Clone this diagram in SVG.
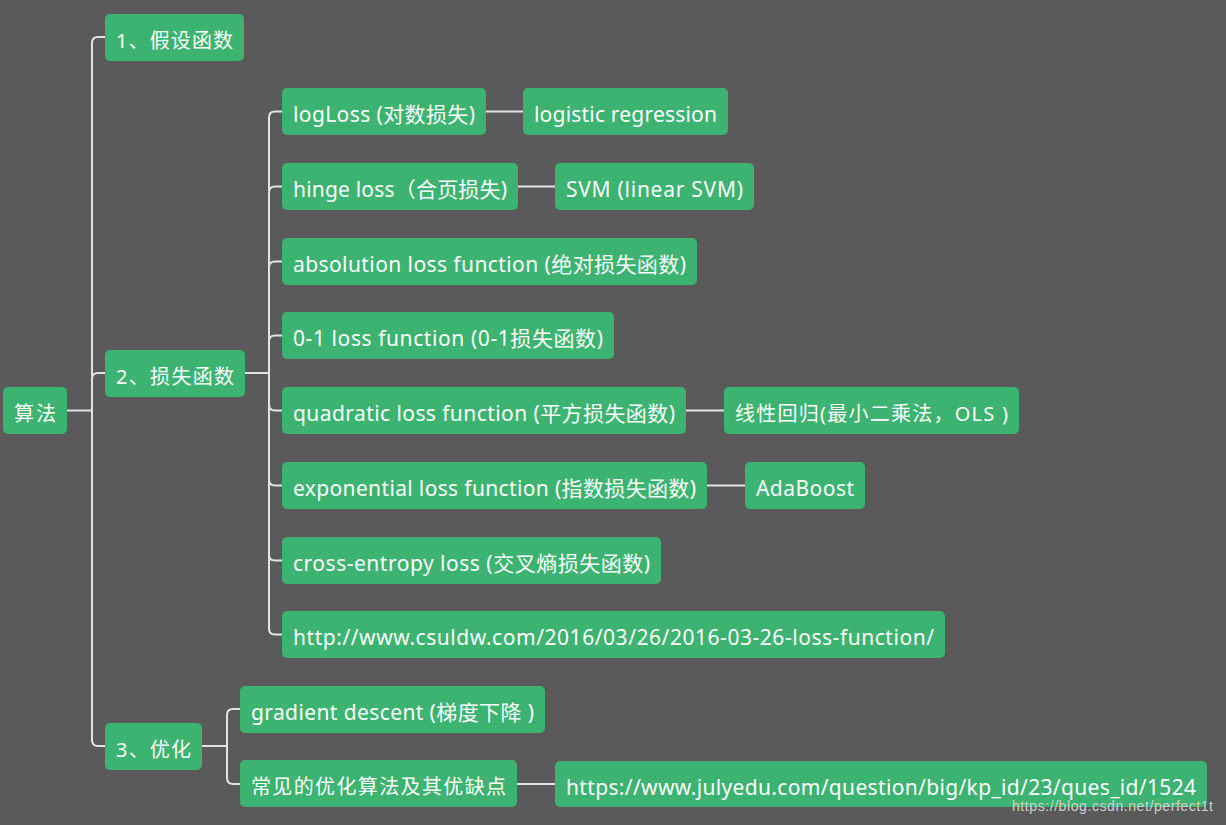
<svg xmlns="http://www.w3.org/2000/svg" width="1226" height="825" viewBox="0 0 1226 825">
<style>
.n rect{fill:#3cb371;}
.n text{fill:#ffffff;font-family:"Noto Sans","Noto Sans CJK SC",sans-serif;font-size:21px;}
.n text.z{font-size:20px;}
.c path{fill:none;stroke:#e3e3e3;stroke-width:2;}
.wm{fill:#d0d0d0;font-family:"Liberation Sans",Arial,sans-serif;font-size:14px;}
</style>
<rect width="1226" height="825" fill="#5a5a5a"/>
<g class="c">
<path d="M67,410.5 H92"/>
<path d="M92,410 V43 Q92,37 98,37 H105"/>
<path d="M92,410 V379 Q92,373 98,373 H105"/>
<path d="M92,410 V740 Q92,746 98,746 H105"/>
<path d="M245,373 H269"/>
<path d="M269,373 V117.5 Q269,111.5 275,111.5 H282"/>
<path d="M269,373 V192.5 Q269,186.5 275,186.5 H282"/>
<path d="M269,373 V267.5 Q269,261.5 275,261.5 H282"/>
<path d="M269,373 V341.5 Q269,335.5 275,335.5 H282"/>
<path d="M269,373 V404.5 Q269,410.5 275,410.5 H282"/>
<path d="M269,373 V479.5 Q269,485.5 275,485.5 H282"/>
<path d="M269,373 V554.5 Q269,560.5 275,560.5 H282"/>
<path d="M269,373 V628.5 Q269,634.5 275,634.5 H282"/>
<path d="M202,746 H227"/>
<path d="M227,746 V715 Q227,709 233,709 H240"/>
<path d="M227,746 V778 Q227,784 233,784 H240"/>
<path d="M486,111.5 H523"/>
<path d="M518,186.5 H555"/>
<path d="M686,410.5 H724"/>
<path d="M707,485.5 H745"/>
<path d="M517,784 H555"/>
</g>
<g id="root" class="n"><rect x="3" y="387" width="64" height="47" rx="5"/><text class="z" x="14" y="420.5" textLength="42">算法</text></g>
<g id="n1" class="n"><rect x="105" y="14" width="139" height="47" rx="5"/><text class="z" x="116" y="47.5" textLength="117">1、假设函数</text></g>
<g id="n2" class="n"><rect x="105" y="350" width="140" height="47" rx="5"/><text class="z" x="116" y="383.5" textLength="118">2、损失函数</text></g>
<g id="n3" class="n"><rect x="105" y="723" width="97" height="47" rx="5"/><text class="z" x="116" y="756.5" textLength="75">3、优化</text></g>
<g id="logloss" class="n"><rect x="282" y="88" width="204" height="47" rx="5"/><text x="293" y="121.5" textLength="182">logLoss (对数损失)</text></g>
<g id="logreg" class="n"><rect x="523" y="88" width="205" height="47" rx="5"/><text x="534" y="121.5" textLength="183">logistic regression</text></g>
<g id="hinge" class="n"><rect x="282" y="163" width="236" height="47" rx="5"/><text x="293" y="196.5" textLength="214">hinge loss（合页损失)</text></g>
<g id="svm" class="n"><rect x="555" y="163" width="199" height="47" rx="5"/><text x="566" y="196.5" textLength="177">SVM (linear SVM)</text></g>
<g id="abs" class="n"><rect x="282" y="238" width="415" height="47" rx="5"/><text x="293" y="271.5" textLength="393">absolution loss function (绝对损失函数)</text></g>
<g id="zeroone" class="n"><rect x="282" y="312" width="332" height="47" rx="5"/><text x="293" y="345.5" textLength="310">0-1 loss function (0-1损失函数)</text></g>
<g id="quad" class="n"><rect x="282" y="387" width="404" height="47" rx="5"/><text x="293" y="420.5" textLength="382">quadratic loss function (平方损失函数)</text></g>
<g id="ols" class="n"><rect x="724" y="387" width="295" height="47" rx="5"/><text class="z" x="735" y="420.5" textLength="273">线性回归(最小二乘法，OLS )</text></g>
<g id="expo" class="n"><rect x="282" y="462" width="425" height="47" rx="5"/><text x="293" y="495.5" textLength="403">exponential loss function (指数损失函数)</text></g>
<g id="ada" class="n"><rect x="745" y="462" width="120" height="47" rx="5"/><text x="756" y="495.5" textLength="98">AdaBoost</text></g>
<g id="ce" class="n"><rect x="282" y="537" width="379" height="47" rx="5"/><text x="293" y="570.5" textLength="357">cross-entropy loss (交叉熵损失函数)</text></g>
<g id="url1" class="n"><rect x="282" y="611" width="663" height="47" rx="5"/><text x="293" y="644.5" textLength="641">http://www.csuldw.com/2016/03/26/2016-03-26-loss-function/</text></g>
<g id="gd" class="n"><rect x="240" y="686" width="305" height="47" rx="5"/><text x="251" y="719.5" textLength="283">gradient descent (梯度下降 )</text></g>
<g id="common" class="n"><rect x="240" y="760" width="277" height="47" rx="5"/><text class="z" x="251" y="793.5" textLength="255">常见的优化算法及其优缺点</text></g>
<g id="url2" class="n"><rect x="555" y="761" width="652" height="46" rx="5"/><text x="566" y="794.5" textLength="630">https://www.julyedu.com/question/big/kp_id/23/ques_id/1524</text></g>
<text class="wm" x="1012" y="811" textLength="201">https://blog.csdn.net/perfect1t</text>
</svg>
